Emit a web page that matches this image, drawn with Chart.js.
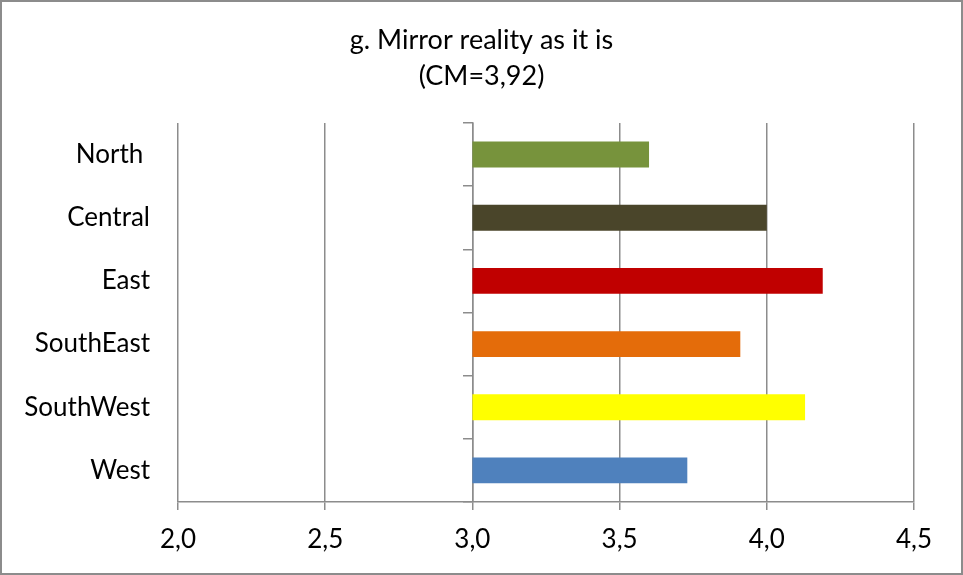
<!DOCTYPE html>
<html>
<head>
<meta charset="utf-8">
<script src="https://cdn.jsdelivr.net/npm/chart.js@4/dist/chart.umd.min.js"></script>
<style>
  html, body { margin: 0; padding: 0; background: #fff; }
  #wrap { position: relative; width: 963px; height: 575px; }
  #frame { position: absolute; left: 0; top: 0; width: 963px; height: 575px; box-sizing: border-box;
           border: 2px solid #8c8c8c; pointer-events: none; }
</style>
</head>
<body>
<div id="wrap">
  <canvas id="myChart" width="963" height="575"></canvas>
  <div id="frame"></div>
</div>
<script>
// data
var regions = ["North ", "Central", "East", "SouthEast", "SouthWest", "West"];
var scores = [3.60, 4.00, 4.19, 3.91, 4.13, 3.73];
var barColors = ["#77933C", "#4A452A", "#C00000", "#E46C0A", "#FFFF00", "#4F81BD"];
var baseValue = 3.0;
var xTicks = [2.0, 2.5, 3.0, 3.5, 4.0, 4.5];
var titleLines = ["g. Mirror reality as it is", "(CM=3,92)"];

var fontFamily = "Lato, 'Open Sans', sans-serif";
var gridColor = "#8c8c8c";

new Chart("myChart", {
  type: "bar",
  data: {
    labels: regions,
    datasets: [{
      data: regions.map(function(r, i){ return [baseValue, scores[i]]; }),
      backgroundColor: barColors,
      borderWidth: 0,
      barPercentage: 0.41,
      categoryPercentage: 1
    }]
  },
  options: {
    indexAxis: "y",
    responsive: false,
    animation: false,
    layout: { padding: { top: 0, right: 0, bottom: 20, left: 0 } },
    plugins: {
      legend: { display: false },
      tooltip: { enabled: false },
      title: {
        display: true,
        text: titleLines,
        color: "#000",
        font: { family: fontFamily, size: 27, weight: "normal", lineHeight: 1.333 },
        padding: { top: 22, bottom: 29 }
      }
    },
    scales: {
      x: {
        type: "linear",
        min: xTicks[0],
        max: xTicks[xTicks.length - 1],
        afterBuildTicks: function(scale){
          scale.ticks = xTicks.map(function(v){ return { value: v }; });
        },
        afterFit: function(scale){ scale.height = 53; },
        ticks: {
          color: "#000",
          font: { family: fontFamily, size: 26 },
          padding: 14,
          callback: function(v){ return Number(v).toFixed(1).replace(".", ","); }
        },
        grid: { color: gridColor, lineWidth: 1.5, tickLength: 8, tickColor: gridColor },
        border: { display: true, color: gridColor, width: 1.5 }
      },
      y: {
        type: "category",
        position: "left",
        offset: true,
        afterFit: function(scale){ scale.width = 178; },
        ticks: {
          color: "#000",
          font: { family: fontFamily, size: 26 },
          padding: 28,
          crossAlign: "near"
        },
        grid: { display: false, drawTicks: false },
        border: { display: false }
      },
      // empty right-hand axis, only reserves the right margin
      yRight: {
        type: "category",
        axis: "y",
        position: "right",
        labels: regions,
        afterFit: function(scale){ scale.width = 49; },
        ticks: { display: false },
        grid: { display: false, drawTicks: false },
        border: { display: false }
      },
      y2: {
        type: "category",
        axis: "y",
        position: { x: baseValue },
        offset: true,
        labels: regions,
        ticks: { display: false },
        grid: { offset: true, drawOnChartArea: false, drawTicks: true, tickLength: 9, color: gridColor, lineWidth: 1.5 },
        border: { display: true, color: gridColor, width: 1.5 }
      }
    }
  }
});
</script>
</body>
</html>
